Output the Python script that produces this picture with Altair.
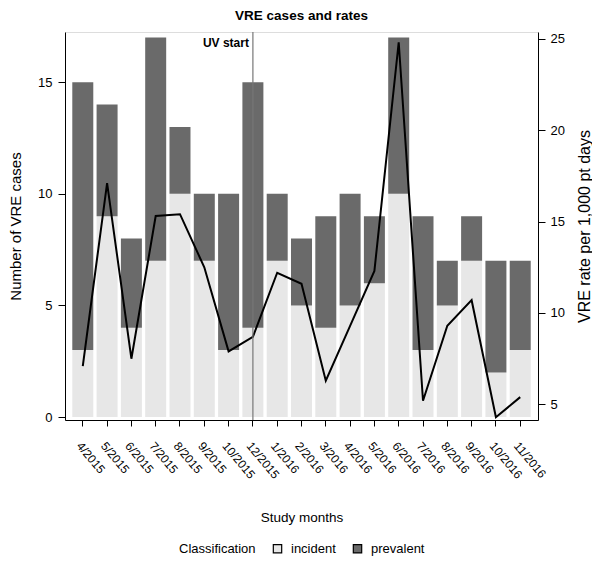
import altair as alt
import pandas as pd

months = ["4/2015", "5/2015", "6/2015", "7/2015", "8/2015", "9/2015", "10/2015",
          "12/2015", "1/2016", "2/2016", "3/2016", "4/2016", "5/2016", "6/2016",
          "7/2016", "8/2016", "9/2016", "10/2016", "11/2016"]
incident = [3, 9, 4, 7, 10, 7, 3, 4, 7, 5, 4, 5, 6, 10, 3, 5, 7, 2, 3]
total = [15, 14, 8, 17, 13, 10, 10, 15, 10, 8, 9, 10, 9, 17, 9, 7, 9, 7, 7]
rate = [7.1, 17.1, 7.5, 15.3, 15.4, 12.5, 7.9, 8.7, 12.2, 11.6, 6.3, 9.3, 12.3,
        24.8, 5.2, 9.3, 10.7, 4.3, 5.4]
uv_month = "12/2015"

FONT = "Liberation Sans, Arial, sans-serif"

rows = []
for m, i, t in zip(months, incident, total):
    rows.append({"month": m, "Classification": "incident", "cases": i, "order": 0})
    rows.append({"month": m, "Classification": "prevalent", "cases": t - i, "order": 1})
bars_df = pd.DataFrame(rows)
rate_df = pd.DataFrame({"month": months, "rate": rate})
uv_df = pd.DataFrame({"month": [uv_month], "label": ["UV start"]})

xenc = alt.X("month:N", sort=months, title="Study months",
             scale=alt.Scale(paddingInner=0.136, paddingOuter=0.3),
             axis=alt.Axis(labelAngle=50, labelAlign="left", labelBaseline="top",
                           labelFontSize=12, titleFontSize=13.5, titleFontWeight="normal",
                           titlePadding=30, domainColor="black", tickColor="black",
                           tickSize=6, labelColor="black", titleColor="black",
                           labelPadding=14))

bars = alt.Chart(bars_df).mark_bar().encode(
    x=xenc,
    y=alt.Y("sum(cases):Q", title="Number of VRE cases",
            scale=alt.Scale(domain=[-0.13, 17.25], nice=False, zero=False),
            axis=alt.Axis(values=[0, 5, 10, 15], grid=False, orient="left",
                          labelFontSize=13, titleFontSize=15, titleFontWeight="normal",
                          domainColor="black", tickColor="black", labelColor="black",
                          tickSize=7, labelPadding=6,
                          titleColor="black", titlePadding=14)),
    color=alt.Color("Classification:N",
                    scale=alt.Scale(domain=["incident", "prevalent"],
                                    range=["#e7e7e7", "#6a6a6a"]),
                    legend=alt.Legend(orient="none", legendX=114, legendY=510,
                                      direction="horizontal", titleOrient="left",
                                      symbolType="square", symbolSize=70,
                                      symbolStrokeColor="black", symbolStrokeWidth=1.2,
                                      labelFontSize=13, titleFontSize=13,
                                      labelOffset=7, titleColor="black",
                                      labelColor="black",
                                      titleFontWeight="normal", columnPadding=14,
                                      titlePadding=15)),
    order=alt.Order("order:Q", sort="ascending"),
)

line = alt.Chart(rate_df).mark_line(color="black", strokeWidth=2).encode(
    x=alt.X("month:N", sort=months),
    y=alt.Y("rate:Q", title="VRE rate per 1,000 pt days",
            scale=alt.Scale(domain=[4.15, 25.36], nice=False, zero=False),
            axis=alt.Axis(values=[5, 10, 15, 20, 25], grid=False, orient="right",
                          labelFontSize=13, titleFontSize=16, titleFontWeight="normal",
                          titleAngle=270, domainColor="black", tickColor="black",
                          tickSize=7, labelPadding=5,
                          labelColor="black", titleColor="black", titlePadding=28)),
)

rule = alt.Chart(uv_df).mark_rule(color="#777777", strokeWidth=1.2).encode(
    x=alt.X("month:N", sort=months)
)

text = alt.Chart(uv_df).mark_text(align="right", baseline="middle", dx=-4,
                                  fontWeight="bold", fontSize=12, font=FONT,
                                  color="black").encode(
    x=alt.X("month:N", sort=months),
    y=alt.value(11),
    text="label:N",
)

chart = alt.layer(bars, line, rule, text).resolve_scale(y="independent").properties(
    width=473, height=388,
    title=alt.TitleParams("VRE cases and rates", fontSize=13.5, fontWeight="bold",
                          font=FONT, color="black", offset=9),
    autosize=alt.AutoSizeParams(type="none"),
    padding={"left": 57, "top": 24, "right": 54, "bottom": 140},
).configure_view(stroke="#aaaaaa", strokeWidth=1.2).configure(
    font=FONT
)

chart.save("out.html", embed_options={"renderer": "svg", "actions": False})
